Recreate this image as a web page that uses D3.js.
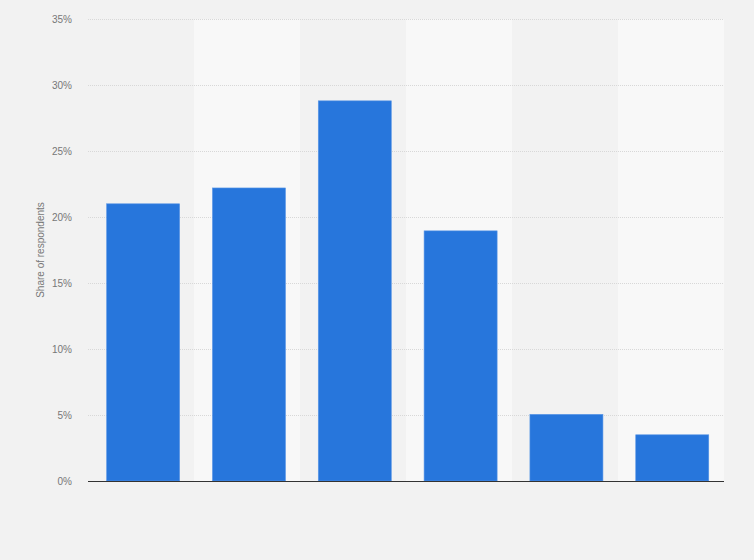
<!DOCTYPE html>
<html>
<head>
<meta charset="utf-8">
<script src="https://cdn.jsdelivr.net/npm/d3@7"></script>
<style>
  body { margin: 0; background: #f2f2f2; }
  svg { display: block; }
</style>
</head>
<body>
<div id="chart_container"></div>
<script>
// Data (no category labels shown in the picture)
const categories = ["A", "B", "C", "D", "E", "F"]
const shares = [21, 22.2, 28.8, 18.95, 5.05, 3.5]
const yTicks = [0, 5, 10, 15, 20, 25, 30, 35]

const W = 754, H = 560
const marginLeft = 88, marginRight = 30, marginTop = 19, marginBottom = 79
const width = W - marginLeft - marginRight
const height = H - marginTop - marginBottom
const fontSize = "10px"

const svg = d3.select("#chart_container").append("svg")
  .attr("width", W).attr("height", H)
  .style("font-family", "'Liberation Sans', Arial, sans-serif")

svg.append("rect").attr("width", W).attr("height", H).attr("fill", "#f2f2f2")

const g = svg.append("g").attr("transform", `translate(${marginLeft}, ${marginTop})`)

const x = d3.scaleBand().domain(categories).range([0, width]).paddingInner(0.31).paddingOuter(0.16).align(0.55)
const bandX = d3.scaleBand().domain(categories).range([0, width])
const y = d3.scaleLinear().domain([0, 35]).range([height, 0])

// alternating band shading
g.selectAll(".band")
  .data(categories.filter((d, i) => i % 2 === 1))
  .join("rect")
  .attr("x", d => bandX(d))
  .attr("y", 0)
  .attr("width", bandX.bandwidth())
  .attr("height", height)
  .attr("fill", "#f8f8f8")

// gridlines
g.selectAll(".grid")
  .data(yTicks.slice(1))
  .join("line")
  .attr("x1", 0).attr("x2", width)
  .attr("y1", d => y(d) + 0.5).attr("y2", d => y(d) + 0.5)
  .attr("stroke", "#d8d8d8")
  .attr("stroke-width", 1)
  .attr("stroke-dasharray", "1,1")

// y axis
g.append("g")
  .style("font-size", fontSize)
  .call(d3.axisLeft(y).tickValues(yTicks).tickFormat(d => d + "%").tickSize(0).tickPadding(16))
  .call(a => a.select(".domain").remove())
  .selectAll(".tick text")
  .attr("fill", "#777")

// bars
g.selectAll(".bar")
  .data(shares)
  .join("rect")
  .attr("x", (d, i) => x(categories[i]))
  .attr("y", d => y(d))
  .attr("width", x.bandwidth())
  .attr("height", d => height - y(d))
  .attr("fill", "#2776dc")
  .attr("stroke", "#5a96e6")
  .attr("stroke-width", 0.6)

// baseline
g.append("line")
  .attr("x1", 0).attr("x2", width)
  .attr("y1", height + 0.5).attr("y2", height + 0.5)
  .attr("stroke", "#333")
  .attr("stroke-width", 1.2)

// y axis title
g.append("text")
  .attr("transform", "rotate(-90)")
  .attr("x", -height / 2)
  .attr("y", -marginLeft + 44)
  .style("text-anchor", "middle")
  .style("font-size", fontSize)
  .style("fill", "#777")
  .text("Share of respondents")
</script>
</body>
</html>
